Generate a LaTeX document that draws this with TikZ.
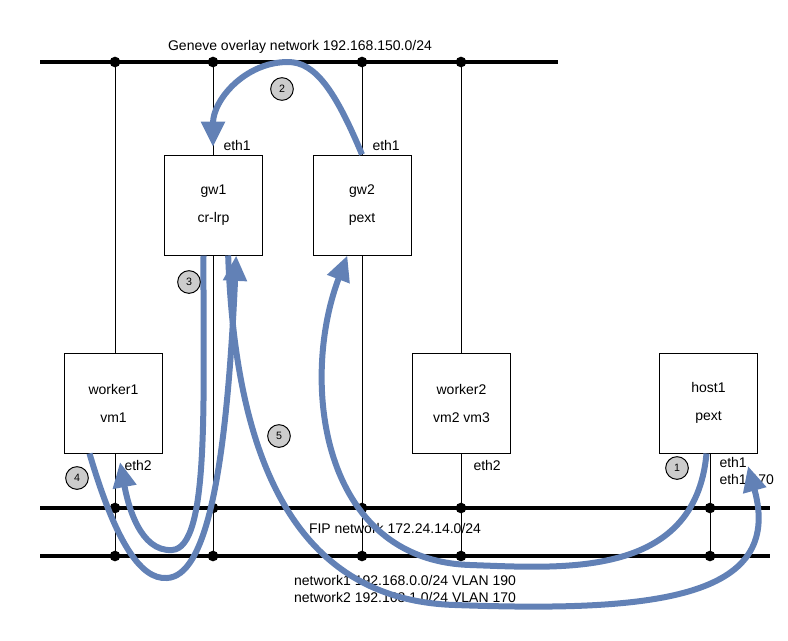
\documentclass[tikz,border=0pt]{standalone}
\usepackage{fontspec}
\setmainfont{Liberation Sans}
\usetikzlibrary{arrows.meta}
\definecolor{flowblue}{RGB}{98,129,182}
\definecolor{badgegray}{RGB}{204,204,204}
\tikzset{every picture/.style={line width=0.75pt}}
\tikzset{
  host/.style={draw, fill=white, minimum width=73.5pt, minimum height=75pt, align=center, font=\fontsize{10.5}{21}\selectfont},
  bus/.style={line width=3.5pt},
  dot/.style={circle, fill=black, inner sep=0pt, minimum size=8pt},
  badge/.style={circle, draw, fill=badgegray, inner sep=0pt, minimum size=17pt, font=\fontsize{8}{9}\selectfont},
  lbl/.style={inner sep=0.75pt, font=\fontsize{10.5}{13}\selectfont},
  flow/.style={draw=flowblue, line width=4.5pt, -{Triangle[length=19pt,width=17pt]}}
}

\begin{document}
\begin{tikzpicture}[x=0.75pt,y=0.75pt,yscale=-1,xscale=1]
\useasboundingbox (0,0) rectangle (788,640);

%Buses
\draw [bus] (40,62) -- (558,62) ;
\draw [bus] (40,508) -- (770,508) ;
\draw [bus] (40,556) -- (770,556) ;

%Hosts
\node [host] (gw1) at (213.5,205) {gw1\\cr-lrp};
\node [host] (gw2) at (362,205) {gw2\\pext};
\node [host] (worker1) at (113.5,403) {worker1\\vm1};
\node [host] (worker2) at (461.5,403) {worker2\\vm2 vm3};
\node [host] (host1) at (708.5,403) {host1\\pext};

%Taps
\foreach \x/\b/\t in {115/62/353, 213/62/155, 362/62/155, 461/62/353}
  {\draw (\x,\b) -- (\x,\t) ; \node [dot] at (\x,\b) {};}
\foreach \x/\t in {115/453, 213/255, 362/255, 461/453, 710/453}
  {\draw (\x,\t) -- (\x,556) ; \node [dot] at (\x,508) {}; \node [dot] at (\x,556) {};}

%Labels
\node [lbl] (geneve) at (300,47) {Geneve overlay network 192.168.150.0/24};
\node [lbl] (fip) at (395,528) {FIP network 172.24.14.0/24};
\node [lbl, align=left] (vlans) at (405,589) {network1 192.168.0.0/24 VLAN 190\\network2 192.168.1.0/24 VLAN 170};
\node [lbl, anchor=west] (gw1eth) at (222,145) {eth1};
\node [lbl, anchor=west] (gw2eth) at (371,145) {eth1};
\node [lbl, anchor=west] (w1eth) at (123,465) {eth2};
\node [lbl, anchor=west] (w2eth) at (472,465) {eth2};
\node [lbl, anchor=west, align=left] (h1eth) at (718,471) {eth1\\eth1.170};

%Flows
\draw [flow] ([xshift=-1.5pt]host1.south) .. controls (695,580) and (560,568) .. (470,565) .. controls (320,560) and (300,380) .. ([xshift=-11pt]gw2.south) ;
\draw [flow] ([xshift=-7.5pt]gw1.south) .. controls (203,400) and (210,548) .. (172,550) .. controls (140,552) and (128,505) .. (120,462) ;
\draw [flow] ([xshift=-18pt]worker1.south) .. controls (115,540) and (140,580) .. (167,578) .. controls (205,576) and (226,480) .. ([xshift=17pt]gw1.south) ;
\draw [flow] ([xshift=11pt]gw1.south) .. controls (235,450) and (290,600) .. (455,605) .. controls (650,612) and (785,600) .. (748,466) ;
\draw [flow] (gw2.north) .. controls (335,90) and (315,62) .. (288,62) .. controls (245,62) and (213,100) .. (213,147) ;

%Badges
\node [badge] (b1) at (677,468) {1};
\node [badge] (b2) at (282,89) {2};
\node [badge] (b3) at (189,282) {3};
\node [badge] (b4) at (77,478) {4};
\node [badge] (b5) at (279,436) {5};

\end{tikzpicture}
\end{document}
